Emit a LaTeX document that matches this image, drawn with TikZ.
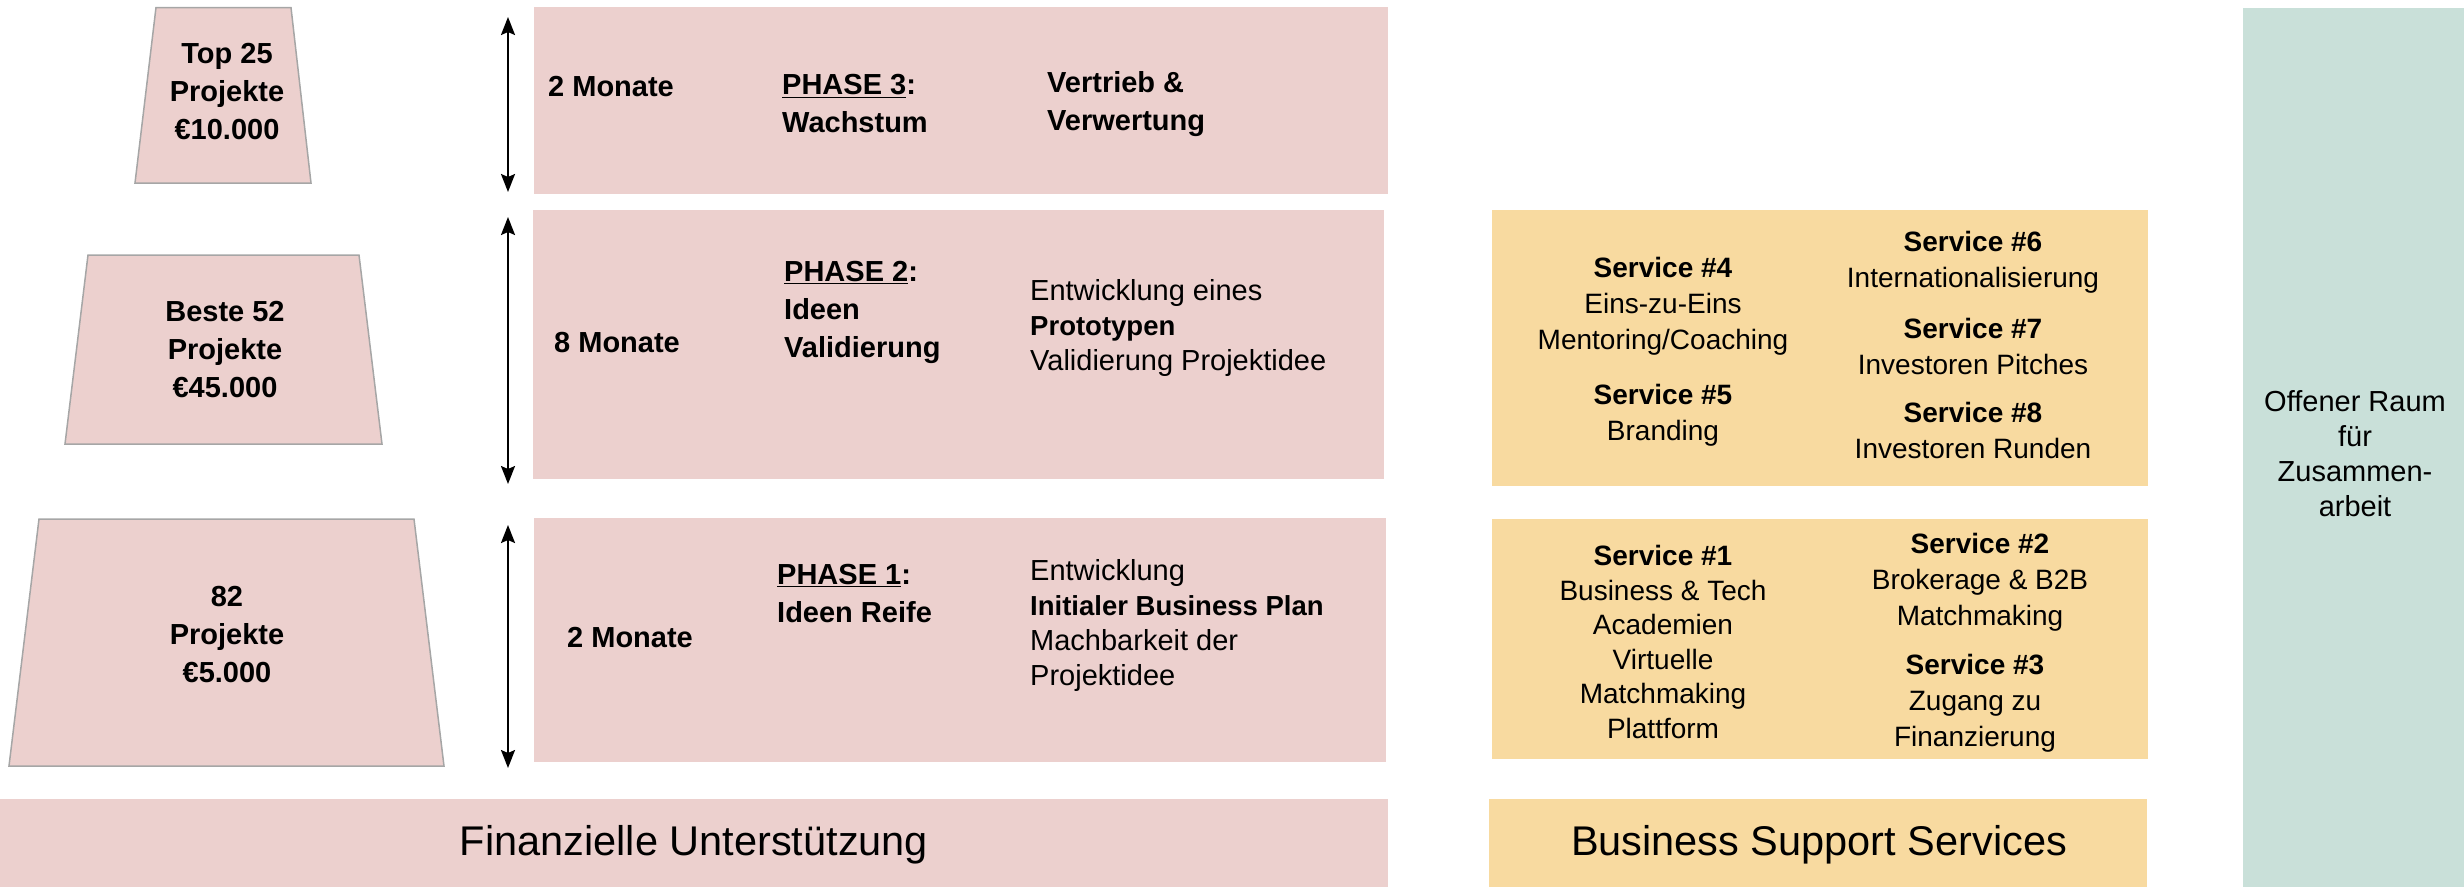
\documentclass[tikz,border=0pt]{standalone}
\usepackage{fontspec}
\setmainfont{Liberation Sans}
\usetikzlibrary{arrows.meta}
\definecolor{pinkfill}{RGB}{236,208,206}
\definecolor{yellowfill}{RGB}{248,218,160}
\definecolor{greenfill}{RGB}{201,224,217}
\definecolor{trapline}{RGB}{166,166,166}
\newcommand{\dbold}[1]{{\fontsize{27.5}{35}\selectfont\bfseries #1}}
\begin{document}
\begin{tikzpicture}[x=1pt,y=-1pt,
  box/.style={inner sep=0pt, outer sep=0pt, anchor=north west},
  pinkbox/.style={box, fill=pinkfill},
  yellowbox/.style={box, fill=yellowfill},
  greenbox/.style={box, fill=greenfill},
  trap/.style={fill=pinkfill, draw=trapline, line width=1.5pt},
  traptxt/.style={inner sep=0pt, align=center, font=\fontsize{29}{38}\selectfont\bfseries},
  durtxt/.style={inner sep=0pt, anchor=west, font=\fontsize{29}{35}\selectfont\bfseries},
  phasetxt/.style={inner sep=0pt, anchor=west, align=left, font=\fontsize{29}{38}\selectfont\bfseries},
  desctxt/.style={inner sep=0pt, anchor=west, align=left, font=\fontsize{29}{35}\selectfont},
  srvtxt/.style={inner sep=0pt, align=center, font=\fontsize{28}{36}\selectfont},
  bigtxt/.style={inner sep=0pt, font=\fontsize{41.5}{48}\selectfont},
  greentxt/.style={inner sep=0pt, align=center, font=\fontsize{29}{35}\selectfont},
  dur/.style={line width=2pt, {Stealth[length=18pt,width=14pt,inset=3pt]}-{Stealth[length=18pt,width=14pt,inset=3pt]}}
]
\useasboundingbox (0,0) rectangle (2464,887);

% background boxes
\node[pinkbox, minimum width=854pt, minimum height=187pt] (p3box) at (534,7) {};
\node[pinkbox, minimum width=851pt, minimum height=269pt] (p2box) at (533,210) {};
\node[pinkbox, minimum width=852pt, minimum height=244pt] (p1box) at (534,518) {};
\node[pinkbox, minimum width=1388pt, minimum height=88pt] (finbox) at (0,799) {};
\node[yellowbox, minimum width=656pt, minimum height=276pt] (sbox2) at (1492,210) {};
\node[yellowbox, minimum width=656pt, minimum height=240pt] (sbox1) at (1492,519) {};
\node[yellowbox, minimum width=658pt, minimum height=88pt] (bssbox) at (1489,799) {};
\node[greenbox, minimum width=221pt, minimum height=879pt] (gbox) at (2243,8) {};

% trapezoids
\filldraw[trap] (156,7.5) -- (291,7.5) -- (311,183) -- (135,183) -- cycle;
\filldraw[trap] (88,255) -- (359,255) -- (382,444) -- (65,444) -- cycle;
\filldraw[trap] (39,519) -- (414,519) -- (444,766) -- (9,766) -- cycle;
\node[traptxt] (t3) at (227,92) {Top 25\\Projekte\\€10.000};
\node[traptxt] (t2) at (225,350) {Beste 52\\Projekte\\€45.000};
\node[traptxt] (t1) at (227,635) {82\\Projekte\\€5.000};

% duration arrows
\coordinate (a3t) at (508,17);
\coordinate (a3b) at (508,192);
\coordinate (a2t) at (508,217);
\coordinate (a2b) at (508,484);
\coordinate (a1t) at (508,525);
\coordinate (a1b) at (508,768);
\draw[dur] (a3t) -- (a3b);
\draw[dur] (a2t) -- (a2b);
\draw[dur] (a1t) -- (a1b);

% phase 3
\node[durtxt] (d3) at (548,87) {2 Monate};
\node[phasetxt] (ph3) at (782,104) {\underline{PHASE 3}:\\Wachstum};
\node[phasetxt] (de3) at (1047,104) {Vertrieb \&\\Verwertung};

% phase 2
\node[durtxt] (d2) at (554,343) {8 Monate};
\node[phasetxt] (ph2) at (784,312) {\underline{PHASE 2}:\\Ideen\\Validierung};
\node[desctxt] (de2) at (1030,328) {Entwicklung eines\\\dbold{Prototypen}\\Validierung Projektidee};

% phase 1
\node[durtxt] (d1) at (567,638) {2 Monate};
\node[phasetxt] (ph1) at (777,594) {\underline{PHASE 1}:\\Ideen Reife};
\node[desctxt] (de1) at (1030,625) {Entwicklung\\\dbold{Initialer Business Plan}\\Machbarkeit der\\Projektidee};

% services upper
\node[srvtxt] (s4) at (1663,306) {\textbf{Service \#4}\\Eins-zu-Eins\\Mentoring/Coaching};
\node[srvtxt] (s5) at (1663,415) {\textbf{Service \#5}\\Branding};
\node[srvtxt] (s6) at (1973,262) {\textbf{Service \#6}\\Internationalisierung};
\node[srvtxt] (s7) at (1973,346) {\textbf{Service \#7}\\Investoren Pitches};
\node[srvtxt] (s8) at (1973,430) {\textbf{Service \#8}\\Investoren Runden};

% services lower
\node[srvtxt, font=\fontsize{28}{34.6}\selectfont] (s1) at (1663,642) {\textbf{Service \#1}\\Business \& Tech\\Academien\\Virtuelle\\Matchmaking\\Plattform};
\node[srvtxt] (s2) at (1980,582) {\textbf{Service \#2}\\Brokerage \& B2B\\Matchmaking};
\node[srvtxt] (s3) at (1975,703) {\textbf{Service \#3}\\Zugang zu\\Finanzierung};

% bottom labels
\node[bigtxt] (fin) at (694,845) {Finanzielle Unterstützung};
\node[bigtxt] (bss) at (1819,845) {Business Support Services};
\node[greentxt] (open) at (2355,454) {Offener Raum\\für\\Zusammen-\\arbeit};
\end{tikzpicture}
\end{document}
